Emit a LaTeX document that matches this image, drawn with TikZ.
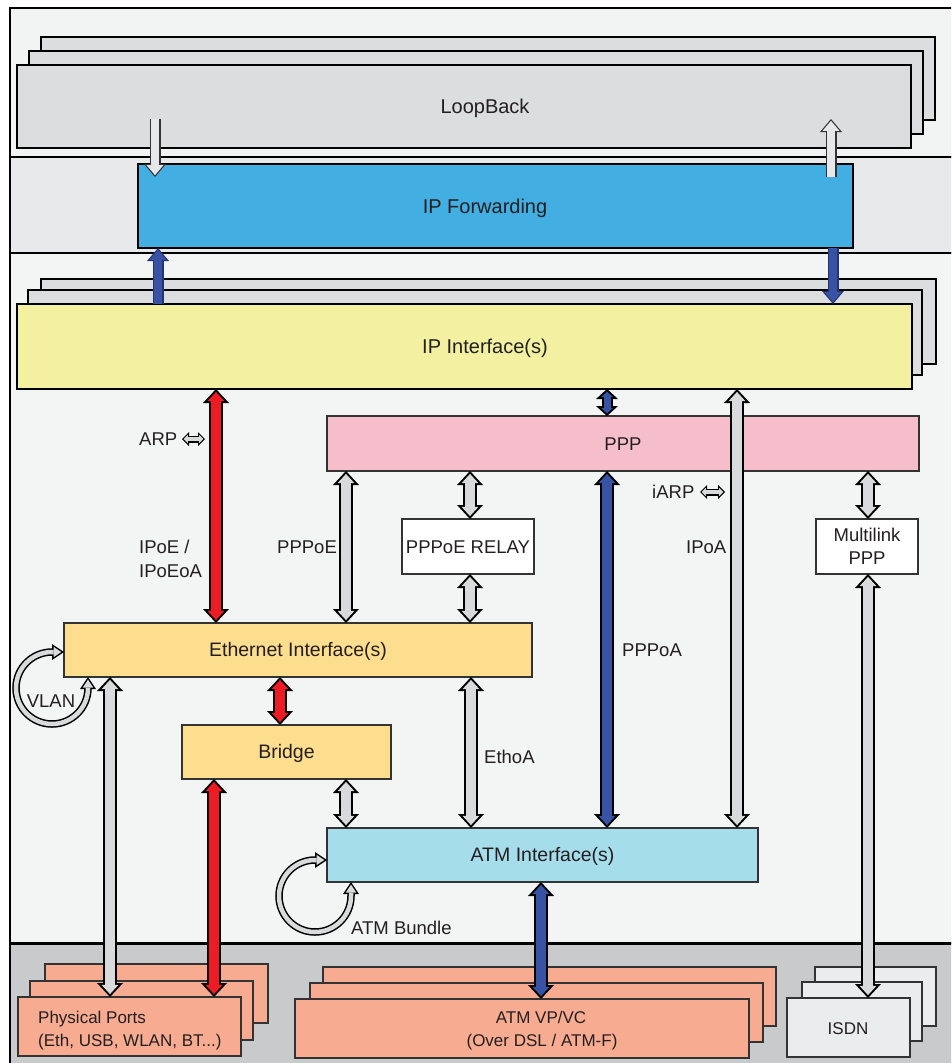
\documentclass[tikz,border=0pt]{standalone}
\usepackage{fontspec}
\setmainfont{Liberation Sans}
\usetikzlibrary{arrows.meta,calc}
\definecolor{bandA}{HTML}{F2F3F3}
\definecolor{bandB}{HTML}{E8E9EA}
\definecolor{bandC}{HTML}{F3F4F4}
\definecolor{bandD}{HTML}{C9CACB}
\definecolor{lbgray}{HTML}{DCDDDF}
\definecolor{fwdblue}{HTML}{43AEE1}
\definecolor{ipyel}{HTML}{F3F1A1}
\definecolor{ppppink}{HTML}{F6BDCB}
\definecolor{ethor}{HTML}{FDDD8E}
\definecolor{atmcyan}{HTML}{A6DDEB}
\definecolor{salmon}{HTML}{F7AB91}
\definecolor{isdngray}{HTML}{EBECEE}
\definecolor{arrgray}{HTML}{D9DADC}
\definecolor{arrlight}{HTML}{E6E7E8}
\definecolor{arrred}{HTML}{ED1C24}
\definecolor{arrblue}{HTML}{3953A4}
\definecolor{navy}{HTML}{27336E}
\definecolor{txt}{HTML}{231F20}
\definecolor{edge}{HTML}{333333}
\tikzset{
  Bboth/.style={draw=black, line width=14pt,
    arrows={{Triangle[length=14pt,width=26pt,line width=0pt]}-{Triangle[length=14pt,width=26pt,line width=0pt]}},
    postaction={draw=#1, line width=10pt,
      arrows={{Triangle[length=9.1pt,width=16.8pt,line width=0pt]}-{Triangle[length=9.1pt,width=16.8pt,line width=0pt]}},
      shorten <=2.94pt, shorten >=2.94pt}},
  Send/.style 2 args={draw=#2, line width=11pt,
    arrows={-{Triangle[length=13pt,width=22pt,line width=0pt]}},
    postaction={draw=#1, line width=8.6pt,
      arrows={-{Triangle[length=9.9pt,width=16.8pt,line width=0pt]}},
      shorten >=1.86pt}},
  Tboth/.style={draw=black, line width=11pt,
    arrows={{Triangle[length=10pt,width=22pt,line width=0pt]}-{Triangle[length=10pt,width=22pt,line width=0pt]}},
    postaction={draw=#1, line width=7pt,
      arrows={{Triangle[length=5.3pt,width=11.7pt,line width=0pt]}-{Triangle[length=5.3pt,width=11.7pt,line width=0pt]}},
      shorten <=2.7pt, shorten >=2.7pt}},
  Lboth/.style={draw=black, line width=7.5pt,
    arrows={{Triangle[length=12pt,width=16pt,line width=0pt]}-{Triangle[length=12pt,width=16pt,line width=0pt]}},
    postaction={draw=arrgray, line width=4.5pt,
      arrows={{Triangle[length=7.8pt,width=10.4pt,line width=0pt]}-{Triangle[length=7.8pt,width=10.4pt,line width=0pt]}},
      shorten <=2.7pt, shorten >=2.7pt}},
  Aboth/.style={draw=black, line width=7pt,
    arrows={{Triangle[length=7pt,width=14pt,line width=0pt]}-{Triangle[length=7pt,width=14pt,line width=0pt]}},
    postaction={draw=arrgray, line width=4.6pt,
      arrows={{Triangle[length=4.1pt,width=8.2pt,line width=0pt]}-{Triangle[length=4.1pt,width=8.2pt,line width=0pt]}},
      shorten <=1.7pt, shorten >=1.7pt}},
  thickbox/.style={draw=black, line width=2pt},
  bigbox/.style={draw=black, line width=2pt, inner sep=0pt, outer sep=0pt},
  bigtext/.style={inner sep=0pt, text=txt, font=\fontsize{20}{24}\selectfont,
    text height=14pt, text depth=0pt},
  thinbox/.style={draw=edge, line width=1.2pt, inner sep=0pt, outer sep=0pt, text=txt,
    font=\fontsize{18.5}{23}\selectfont, align=center},
  oneline/.style={text height=13.5pt, text depth=0pt},
  wide/.style={font=\fontsize{19.5}{23}\selectfont},
  botbox/.style={draw=edge, line width=2pt, inner sep=0pt, outer sep=0pt},
  bottext/.style={inner sep=0pt, text=txt, font=\fontsize{17}{22}\selectfont,
    text height=12pt, text depth=0pt},
  botback/.style={draw=edge, line width=2pt},
  lbl/.style={inner sep=0pt, anchor=west, text=txt, font=\fontsize{18.5}{22}\selectfont,
    text height=13pt, text depth=0pt},
}
\begin{document}
\begin{tikzpicture}[x=1pt,y=-1pt]
\useasboundingbox (0,0) rectangle (951,1063);
\fill[white] (0,0) rectangle (951,1063);
% background bands
\begin{scope}
\clip (0,0) rectangle (951,1063);
\draw[line width=1.5pt, fill=bandA] (10,8) rectangle (960,157);
\draw[line width=1.5pt, fill=bandB] (10,157) rectangle (960,253);
\draw[line width=1.5pt, fill=bandC] (10,253) rectangle (960,943);
\fill[bandD] (10,943) rectangle (960,1070);
\draw[line width=1.5pt] (10,943) -- (10,1070);
\draw[line width=3pt] (10,943) -- (960,943);
\end{scope}

% LoopBack stack
\draw[thickbox, fill=lbgray] (41,37) rectangle (935,120);
\draw[thickbox, fill=lbgray] (29,51) rectangle (923,134);
\node[bigbox, fill=lbgray, minimum width=894pt, minimum height=83pt] (lb) at (464,106.5) {};
\node[bigtext] (lbT) at (485,106) {LoopBack};

% IP Forwarding
\node[bigbox, fill=fwdblue, minimum width=715pt, minimum height=84pt] (fwd) at (495.5,206) {};
\node[bigtext] (fwdT) at (485,206) {IP Forwarding};

% IP Interface stack
\draw[thickbox, fill=lbgray] (41,279) rectangle (936,364);
\draw[thickbox, fill=lbgray] (28,290) rectangle (922,375);
\node[bigbox, fill=ipyel, minimum width=895pt, minimum height=85pt] (ipif) at (464.5,346.5) {};
\node[bigtext] (ipifT) at (485,346) {IP Interface(s)};

% middle boxes
\node[thinbox, oneline, fill=ppppink, minimum width=592pt, minimum height=55pt] (ppp) at (623,443.5) {PPP};
\node[thinbox, oneline, fill=white, minimum width=132pt, minimum height=55pt] (relay) at (468,546.5) {PPPoE RELAY};
\node[thinbox, fill=white, minimum width=102pt, minimum height=55pt] (mlppp) at (867,546.5) {Multilink\\PPP};
\node[thinbox, oneline, wide, fill=ethor, minimum width=468pt, minimum height=54pt] (eth) at (298,650) {Ethernet Interface(s)};
\node[thinbox, oneline, wide, fill=ethor, minimum width=209pt, minimum height=54pt] (bridge) at (286.5,752) {Bridge};
\node[thinbox, oneline, wide, fill=atmcyan, minimum width=431pt, minimum height=54pt] (atm) at (542.5,855) {ATM Interface(s)};

% bottom stacks
\draw[botback, fill=salmon] (45,964) rectangle (268,1023);
\draw[botback, fill=salmon] (30,981) rectangle (253,1040);
\node[botbox, fill=salmon, minimum width=223pt, minimum height=59pt] (pp) at (129.5,1026.5) {};
\node[bottext, anchor=west] (ppT1) at (38,1017) {Physical Ports};
\node[bottext, anchor=west] (ppT2) at (38,1040) {(Eth, USB, WLAN, BT...)};
\draw[botback, fill=salmon] (323,967) rectangle (776,1026);
\draw[botback, fill=salmon] (310,983) rectangle (763,1042);
\node[botbox, fill=salmon, minimum width=454pt, minimum height=59pt] (vpvc) at (522,1028.5) {};
\node[bottext] (vpT1) at (541,1017) {ATM VP/VC};
\node[bottext] (vpT2) at (542,1040) {(Over DSL / ATM-F)};
\draw[botback, fill=isdngray] (815,967) rectangle (936,1026);
\draw[botback, fill=isdngray] (802,982) rectangle (922,1041);
\node[botbox, fill=isdngray, minimum width=123pt, minimum height=59pt] (isdn) at (848.5,1027.5) {};
\node[bottext] (isdnT) at (848,1028) {ISDN};

% connector x positions
\coordinate (xL) at (155,0);
\coordinate (xR) at (831,0);
\coordinate (xbL) at (158,0);
\coordinate (xbR) at (833,0);
\coordinate (xPP) at (607,0);
\coordinate (xARP) at (216,0);
\coordinate (xPPPoE) at (346,0);
\coordinate (xRel) at (470,0);
\coordinate (xIPoA) at (737,0);
\coordinate (xML) at (868,0);
\coordinate (xEB) at (280,0);
\coordinate (xBA) at (346,0);
\coordinate (xEthoA) at (471,0);
\coordinate (xEP) at (110,0);
\coordinate (xBP) at (214,0);
\coordinate (xAV) at (541,0);

% connectors
\draw[Send={arrlight}{edge}] ($(lb.south -| xL)+(0,-29)$) -- ($(fwd.north -| xL)+(0,13)$);
\draw[Send={arrlight}{edge}] ($(fwd.north -| xR)+(0,13)$) -- ($(lb.south -| xR)+(0,-29)$);
\draw[Send={arrblue}{navy}] (ipif.north -| xbL) -- (fwd.south -| xbL);
\draw[Send={arrblue}{navy}] (fwd.south -| xbR) -- (ipif.north -| xbR);
\draw[Tboth=arrblue] (ipif.south -| xPP) -- (ppp.north -| xPP);
\draw[Bboth=arrred] (ipif.south -| xARP) -- (eth.north -| xARP);
\draw[Bboth=arrgray] (ppp.south -| xPPPoE) -- (eth.north -| xPPPoE);
\draw[Bboth=arrgray] (ppp.south -| xRel) -- (relay.north -| xRel);
\draw[Bboth=arrgray] (relay.south -| xRel) -- (eth.north -| xRel);
\draw[Bboth=arrblue] (ppp.south -| xPP) -- (atm.north -| xPP);
\draw[Bboth=arrgray] (ipif.south -| xIPoA) -- (atm.north -| xIPoA);
\draw[Bboth=arrgray] (ppp.south -| xML) -- (mlppp.north -| xML);
\draw[Bboth=arrgray] (mlppp.south -| xML) -- (isdn.north -| xML);
\draw[Bboth=arrred] (eth.south -| xEB) -- (bridge.north -| xEB);
\draw[Bboth=arrgray] (bridge.south -| xBA) -- (atm.north -| xBA);
\draw[Bboth=arrgray] (eth.south -| xEthoA) -- (atm.north -| xEthoA);
\draw[Bboth=arrgray] (eth.south -| xEP) -- (pp.north -| xEP);
\draw[Bboth=arrred] (bridge.south -| xBP) -- (pp.north -| xBP);
\draw[Bboth=arrblue] (atm.south -| xAV) -- (vpvc.north -| xAV);

% loops
\coordinate (vlanTop) at (52,652);
\coordinate (vlanR) at (88,0);
\draw[Lboth] (eth.west |- vlanTop) -- (vlanTop) arc[start angle=270, end angle=0, radius=36] -- (eth.south -| vlanR);
\coordinate (atmTop) at (315,860);
\coordinate (atmR) at (351,0);
\draw[Lboth] (atm.west |- atmTop) -- (atmTop) arc[start angle=270, end angle=0, radius=36] -- (atm.south -| atmR);

% labels
\node[lbl] (tARP) at (139,439) {ARP};
\coordinate (arpL) at (182,439);
\coordinate (arpR) at (205,439);
\draw[Aboth] (arpL) -- (arpR);
\node[lbl] (tIPoE) at (139,547) {IPoE /};
\node[lbl] (tIPoEoA) at (139,571) {IPoEoA};
\node[lbl] (tPPPoE) at (277,547) {PPPoE};
\node[lbl] (tiARP) at (652,492) {iARP};
\coordinate (iarpL) at (700,492);
\coordinate (iarpR) at (725,492);
\draw[Aboth] (iarpL) -- (iarpR);
\node[lbl] (tIPoA) at (686,547) {IPoA};
\node[lbl] (tPPPoA) at (622,650) {PPPoA};
\node[lbl] (tEthoA) at (484,757) {EthoA};
\node[lbl, anchor=center] (tVLAN) at (51,701) {VLAN};
\node[lbl] (tATMB) at (351,928) {ATM Bundle};
\end{tikzpicture}
\end{document}
